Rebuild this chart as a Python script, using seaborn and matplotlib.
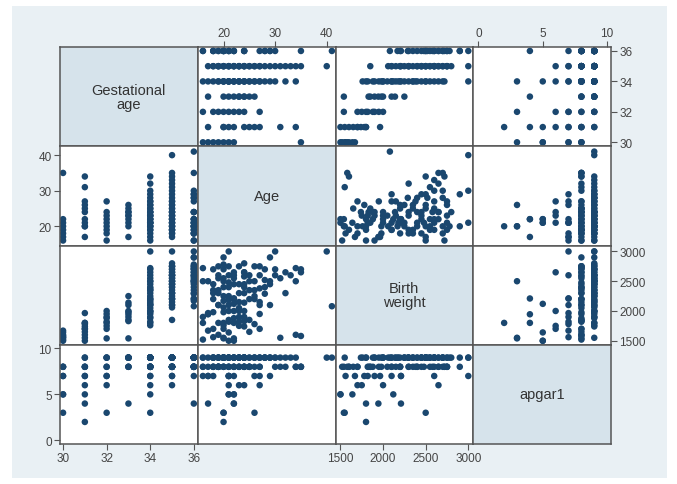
"""Scatter matrix of gestational age, mother's age, birth weight and apgar1."""

import matplotlib
matplotlib.use('Agg')
import matplotlib.pyplot as plt
from matplotlib.patches import Rectangle
import seaborn as sns
import pandas as pd

sns.set_theme(style="white")
plt.rcParams['font.family'] = ['Liberation Sans', 'DejaVu Sans']

gest = [30, 30, 30, 30, 30, 30, 30, 30,
        31, 31, 31, 31, 31, 31, 31, 31, 31, 31, 31,
        32, 32, 32, 32, 32, 32, 32, 32, 32,
        33, 33, 33, 33, 33, 33, 33, 33, 33, 33,
        34, 34, 34, 34, 34, 34, 34, 34, 34, 34, 34, 34, 34, 34, 34, 34,
        34, 34, 34, 34, 34, 34, 34, 34, 34, 34, 34, 34, 34, 34, 34, 34,
        35, 35, 35, 35, 35, 35, 35, 35, 35, 35, 35, 35, 35, 35, 35, 35,
        35, 35, 35, 35, 35, 35, 35, 35, 35, 35, 35, 35, 35, 35, 35, 35,
        35, 35, 35, 35,
        36, 36, 36, 36, 36, 36, 36, 36, 36, 36, 36, 36, 36, 36, 36, 36,
        36, 36, 36, 36, 36, 36, 36, 36, 36, 36, 36, 36]
age = [16, 18, 19, 20, 21, 22, 35, 17,
       34, 31, 27, 26, 25, 24, 22, 21, 20, 17, 20,
       20, 27, 24, 23, 22, 21, 18, 16, 19,
       17, 26, 25, 24, 23, 22, 20, 24, 23, 21,
       16, 17, 19, 20, 20, 21, 21, 22, 22, 23, 23, 24, 24, 25, 25, 26,
       26, 27, 28, 29, 30, 32, 34, 21, 19, 22, 23, 21, 18, 24, 27, 20,
       18, 19, 19, 20, 20, 21, 21, 22, 22, 23, 23, 24, 24, 25, 26, 26,
       27, 28, 30, 31, 32, 34, 35, 40, 18, 20, 21, 22, 23, 25, 17, 27,
       29, 24, 19, 33,
       16, 18, 18, 19, 19, 20, 20, 21, 21, 22, 22, 24, 27, 28, 29, 30,
       35, 41, 20, 24, 28, 16, 18, 21, 22, 24, 29, 20]
bweight = [1520, 1560, 1600, 1550, 1640, 1500, 1580, 1670,
           1600, 1550, 1700, 1780, 1650, 1740, 1800, 1500, 1800, 1965, 1700,
           1540, 1950, 1880, 1750, 2000, 1820, 1700, 1900, 1800,
           1945, 2250, 1850, 2140, 1900, 1540, 1980, 1830, 2000, 2100,
           1800, 1950, 2100, 1760, 2250, 2000, 2400, 2120, 1880, 2300, 2050, 2450, 1900, 2200, 2600, 2500,
           2350, 2150, 2700, 2100, 3000, 2650, 2720, 2210, 2350, 2550, 1820, 2180, 1980, 2000, 2380, 2500,
           2300, 2550, 2100, 2700, 2400, 2250, 1850, 2600, 2210, 2450, 2150, 2800, 2650, 2500, 2200, 2750,
           2600, 2400, 2700, 2550, 2300, 2500, 2650, 3000, 2450, 2060, 2600, 2200, 2750, 2350, 2500, 2100,
           2450, 2300, 2750, 2600,
           2500, 2200, 2700, 2600, 2300, 2550, 2780, 3000, 2480, 2210, 2650, 2400, 2750, 2520, 2900, 2600,
           2700, 2080, 2170, 2580, 2290, 2720, 2350, 2750, 2450, 2650, 2500, 2900]
apgar1 = [8, 7, 8, 3, 5, 5, 8, 7,
          8, 9, 6, 7, 8, 9, 4, 5, 2, 7, 8,
          3, 9, 8, 6, 9, 7, 8, 7, 9,
          4, 9, 8, 9, 9, 8, 9, 8, 9, 9,
          9, 8, 8, 9, 9, 6, 8, 5, 9, 9, 8, 9, 9, 8, 9, 3,
          9, 9, 9, 7, 9, 8, 8, 7, 9, 9, 8, 9, 8, 9, 8, 9,
          9, 9, 8, 9, 8, 9, 8, 9, 7, 9, 8, 9, 6, 9, 9, 8,
          7, 9, 9, 8, 9, 9, 8, 9, 9, 9, 9, 8, 9, 8, 9, 9,
          9, 8, 8, 9,
          9, 8, 9, 9, 8, 9, 9, 7, 8, 4, 9, 9, 8, 9, 9, 8,
          8, 9, 9, 8, 9, 8, 9, 9, 8, 9, 9, 8]

labels = ['Gestational\nage', 'Age', 'Birth\nweight', 'apgar1']
ticks = [[30, 32, 34, 36], [20, 30, 40], [1500, 2000, 2500, 3000], [0, 5, 10]]
xlims = [(29.86, 36.18), (15.0, 41.7), (1442, 3058), (-0.4, 10.3)]
ylims = [(29.74, 36.26), (14.6, 42.5), (1433, 3100), (-0.4, 10.4)]

df = pd.DataFrame({'gest': gest, 'age': age, 'bweight': bweight, 'apgar1': apgar1})
cols = ['gest', 'age', 'bweight', 'apgar1']

W, H = 677, 485
fig = plt.figure(figsize=(W / 100, H / 100), dpi=100, facecolor='white')
fig.patches.append(Rectangle((12 / W, 6 / H), 655 / W, 472 / H, transform=fig.transFigure,
                             facecolor='#e9f0f4', edgecolor='none', zorder=-10))

left, right, top, bottom = 60, 611, 48, 445
cw = (right - left) / 4
ch = (bottom - top) / 4
dot = '#1a476f'

for i in range(4):
    for j in range(4):
        ax = fig.add_axes([(left + j * cw) / W, 1 - (top + (i + 1) * ch) / H, cw / W, ch / H])
        ax.set_xlim(xlims[j])
        ax.set_ylim(ylims[i])
        if i == j:
            ax.set_facecolor('#d6e3eb')
            ax.text(0.5, 0.5, labels[i], transform=ax.transAxes, ha='center', va='center',
                    fontsize=10.5, color='#333333', linespacing=1.0)
        else:
            ax.set_facecolor('white')
            sns.scatterplot(x=df[cols[j]], y=df[cols[i]], ax=ax, color=dot, s=22,
                            edgecolor='none', linewidth=0)
        ax.set_xlabel('')
        ax.set_ylabel('')
        for sp in ax.spines.values():
            sp.set_color('#555555')
            sp.set_linewidth(1.1)

        # x ticks on outer edge only: bottom for columns 0/2, top for 1/3
        ax.tick_params(axis='both', direction='out', length=4, width=0.8, color='#555555',
                       labelsize=8.5, labelcolor='#444444', pad=2)
        if (j % 2 == 0 and i == 3) or (j % 2 == 1 and i == 0):
            ax.set_xticks(ticks[j])
            if i == 0:
                ax.xaxis.tick_top()
            else:
                ax.xaxis.tick_bottom()
        else:
            ax.set_xticks([])
        if (i % 2 == 1 and j == 0) or (i % 2 == 0 and j == 3):
            ax.set_yticks(ticks[i])
            if j == 3:
                ax.yaxis.tick_right()
            else:
                ax.yaxis.tick_left()
        else:
            ax.set_yticks([])

fig.savefig('out.png', dpi=100, facecolor='white')
